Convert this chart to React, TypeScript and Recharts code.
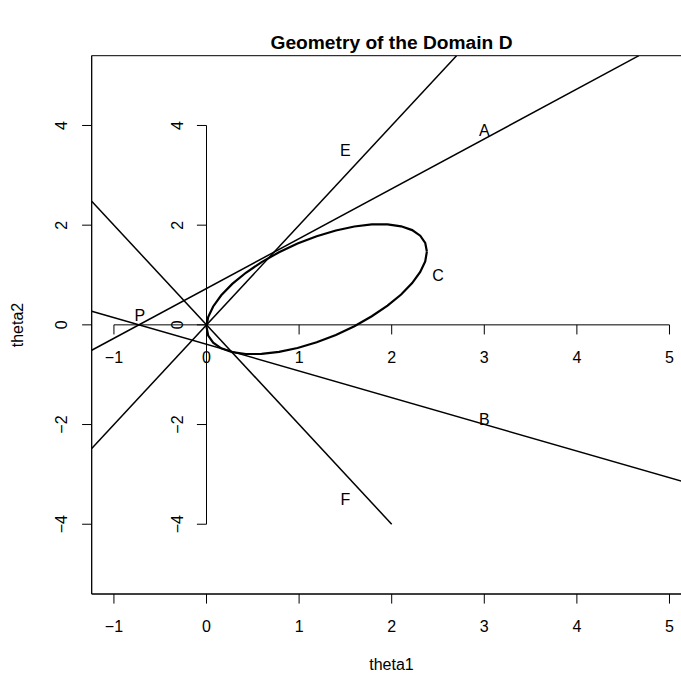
import React from "react"
import {
  ComposedChart,
  Line,
  XAxis,
  YAxis,
  ReferenceLine,
  ReferenceDot,
  ReferenceArea,
} from "recharts"

// plot limits (R extends xlim c(-1,5), ylim c(-5,5) by 4%)
const X_DOMAIN = [-1.24, 5.24]
const Y_DOMAIN = [-5.4, 5.4]
const X_TICKS = [-1, 0, 1, 2, 3, 4, 5]
const Y_TICKS = [-4, -2, 0, 2, 4]

// straight lines, end points
const lineA = [
  { x: -1.24, y: -0.51 },
  { x: 4.67, y: 5.4 },
]
const lineB = [
  { x: -1.24, y: 0.273 },
  { x: 5.24, y: -3.195 },
]
const lineE = [
  { x: -1.24, y: -2.48 },
  { x: 2.7, y: 5.4 },
]
const lineF = [
  { x: -1.24, y: 2.48 },
  { x: 2, y: -4 },
]

// boundary of D, points read around the curve
const ellipseX = [
  2.38, 2.362, 2.308, 2.221, 2.102, 1.955, 1.785, 1.597, 1.397, 1.19, 0.983, 0.783,
  0.595, 0.425, 0.278, 0.159, 0.072, 0.018, 0, 0.018, 0.072, 0.159, 0.278, 0.425,
  0.595, 0.783, 0.983, 1.19, 1.397, 1.597, 1.785, 1.955, 2.102, 2.221, 2.308, 2.362, 2.38,
]
const ellipseY = [
  1.47, 1.644, 1.789, 1.901, 1.977, 2.015, 2.014, 1.973, 1.894, 1.779, 1.632, 1.457,
  1.258, 1.045, 0.821, 0.593, 0.369, 0.156, -0.04, -0.214, -0.359, -0.471, -0.547, -0.585,
  -0.584, -0.543, -0.464, -0.349, -0.202, -0.027, 0.172, 0.385, 0.609, 0.837, 1.061, 1.274, 1.47,
]
const ellipse = ellipseX.map((x, i) => ({ x, y: ellipseY[i] }))

const letters = [
  { text: "A", x: 3, y: 3.9 },
  { text: "E", x: 1.5, y: 3.5 },
  { text: "C", x: 2.5, y: 1 },
  { text: "B", x: 3, y: -1.9 },
  { text: "F", x: 1.5, y: -3.5 },
  { text: "P", x: -0.72, y: 0.2 },
]

const FONT = "'Liberation Sans', Arial, Helvetica, sans-serif"
const TICK_LEN = 9.6
const LINE_W = 1.5

const fmt = (v: number) => (v < 0 ? "\u2212" + Math.abs(v) : String(v))

const XTick = (props: any) => {
  const { x, y, payload } = props
  return (
    <text x={x} y={y - TICK_LEN + 38} textAnchor="middle" fontSize={16} fill="#000" fontFamily={FONT}>
      {fmt(payload.value)}
    </text>
  )
}

const YTick = (props: any) => {
  const { x, y, payload } = props
  const bx = x + TICK_LEN - 24.5
  return (
    <text
      x={bx}
      y={y}
      textAnchor="middle"
      fontSize={16}
      fill="#000"
      fontFamily={FONT}
      transform={`rotate(-90, ${bx}, ${y})`}
    >
      {fmt(payload.value)}
    </text>
  )
}

// tick + label of the axes drawn through the origin
const innerXTick = (v: number) => (p: any) => (
  <g>
    <line x1={p.cx} y1={p.cy} x2={p.cx} y2={p.cy + TICK_LEN} stroke="#000" strokeWidth={1} />
    <text x={p.cx} y={p.cy + 38} textAnchor="middle" fontSize={16} fill="#000" fontFamily={FONT}>
      {fmt(v)}
    </text>
  </g>
)

const innerYTick = (v: number) => (p: any) => (
  <g>
    <line x1={p.cx} y1={p.cy} x2={p.cx - TICK_LEN} y2={p.cy} stroke="#000" strokeWidth={1} />
    <text
      x={p.cx - 24}
      y={p.cy}
      textAnchor="middle"
      fontSize={16}
      fill="#000"
      fontFamily={FONT}
      transform={`rotate(-90, ${p.cx - 24}, ${p.cy})`}
    >
      {fmt(v)}
    </text>
  </g>
)

const letterShape = (t: string) => (p: any) => (
  <text x={p.cx} y={p.cy + 5.8} textAnchor="middle" fontSize={16} fill="#000" fontFamily={FONT}>
    {t}
  </text>
)

export default function App() {
  return (
    <div
      style={{
        position: "absolute",
        left: 0,
        top: 0,
        width: 681,
        height: 680,
        overflow: "hidden",
        background: "#fff",
        fontFamily: FONT,
      }}
    >
      <div
        style={{
          position: "absolute",
          top: 31,
          left: 0,
          width: 783,
          textAlign: "center",
          fontSize: 19.2,
          fontWeight: "bold",
          lineHeight: "24px",
        }}
      >
        Geometry of the Domain D
      </div>
      <div
        style={{
          position: "absolute",
          top: 655,
          left: 0,
          width: 783,
          textAlign: "center",
          fontSize: 16,
          lineHeight: "20px",
        }}
      >
        theta1
      </div>
      <div
        style={{
          position: "absolute",
          left: 18,
          top: 325,
          fontSize: 16,
          lineHeight: "20px",
          whiteSpace: "nowrap",
          transform: "translate(-50%, -50%) rotate(-90deg)",
        }}
      >
        theta2
      </div>
      <ComposedChart
        width={700}
        height={680}
        margin={{ top: 55.7, right: 8.3, bottom: 46, left: 31.7 }}
        style={{ position: "absolute", left: 0, top: 0 }}
      >
        <XAxis
          type="number"
          dataKey="x"
          domain={X_DOMAIN}
          ticks={X_TICKS}
          allowDataOverflow
          height={40}
          stroke="#000"
          tickSize={TICK_LEN}
          tickMargin={0}
          tick={<XTick />}
          tickLine={{ stroke: "#000" }}
          axisLine={{ stroke: "#000" }}
        />
        <YAxis
          type="number"
          dataKey="y"
          domain={Y_DOMAIN}
          ticks={Y_TICKS}
          allowDataOverflow
          width={60}
          stroke="#000"
          tickSize={TICK_LEN}
          tickMargin={0}
          tick={<YTick />}
          tickLine={{ stroke: "#000" }}
          axisLine={{ stroke: "#000" }}
        />
        <ReferenceArea
          x1={X_DOMAIN[0]}
          x2={X_DOMAIN[1]}
          y1={Y_DOMAIN[0]}
          y2={Y_DOMAIN[1]}
          fill="none"
          stroke="#000"
          strokeWidth={1}
        />
        <ReferenceLine
          segment={[{ x: 0, y: Y_TICKS[0] }, { x: 0, y: Y_TICKS[Y_TICKS.length - 1] }]}
          stroke="#000"
          strokeWidth={1}
        />
        <ReferenceLine
          segment={[{ x: X_TICKS[0], y: 0 }, { x: X_TICKS[X_TICKS.length - 1], y: 0 }]}
          stroke="#000"
          strokeWidth={1}
        />
        {X_TICKS.map((v) => (
          <ReferenceDot key={"ix" + v} x={v} y={0} r={0} shape={innerXTick(v)} />
        ))}
        {Y_TICKS.map((v) => (
          <ReferenceDot key={"iy" + v} x={0} y={v} r={0} shape={innerYTick(v)} />
        ))}
        <Line data={lineA} dataKey="y" type="linear" stroke="#000" strokeWidth={LINE_W} dot={false} activeDot={false} isAnimationActive={false} />
        <Line data={lineB} dataKey="y" type="linear" stroke="#000" strokeWidth={LINE_W} dot={false} activeDot={false} isAnimationActive={false} />
        <Line data={lineE} dataKey="y" type="linear" stroke="#000" strokeWidth={LINE_W} dot={false} activeDot={false} isAnimationActive={false} />
        <Line data={lineF} dataKey="y" type="linear" stroke="#000" strokeWidth={LINE_W} dot={false} activeDot={false} isAnimationActive={false} />
        <Line data={ellipse} dataKey="y" type="linear" stroke="#000" strokeWidth={2.2} dot={false} activeDot={false} isAnimationActive={false} />
        {letters.map((l) => (
          <ReferenceDot key={l.text} x={l.x} y={l.y} r={0} shape={letterShape(l.text)} />
        ))}
      </ComposedChart>
    </div>
  )
}
